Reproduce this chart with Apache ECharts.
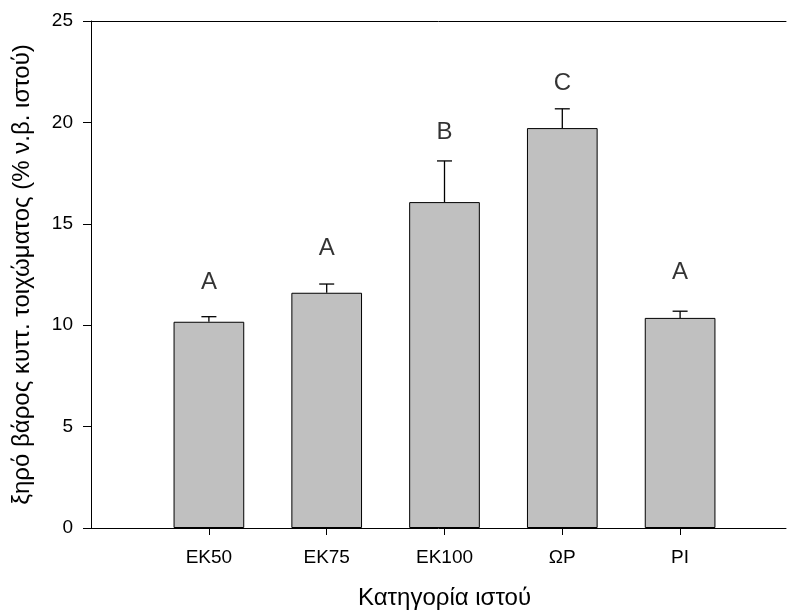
<!DOCTYPE html>
<html><head><meta charset="utf-8">
<script src="https://cdn.jsdelivr.net/npm/echarts@6/dist/echarts.min.js"></script>
<style>html,body{margin:0;padding:0;background:#fff}#c{width:787px;height:612px}</style>
</head><body><div id="c"></div>
<script>
const categories = ['EK50', 'EK75', 'EK100', 'ΩP', 'PI'];
const means = [10.17, 11.60, 16.07, 19.72, 10.36];
const errUpper = [0.25, 0.43, 2.03, 0.95, 0.33];
const letters = ['A', 'A', 'B', 'C', 'A'];
const letterY = [12.1, 13.8, 19.5, 21.9, 12.6];
const yMin = 0, yMax = 25, yStep = 5;
const xTitle = 'Κατηγορία ιστού';
const yTitle = 'ξηρό βάρος κυττ. τοιχώματος (% ν.β. ιστού)';

const FONT = '"Liberation Sans", Arial, sans-serif';
const chart = echarts.init(document.getElementById('c'), null, {renderer: 'canvas'});
const lineStyle = {color: '#000', width: 1};

chart.setOption({
  animation: false,
  backgroundColor: '#fff',
  textStyle: {fontFamily: FONT, color: '#000'},
  grid: [
    {left: 91, right: 1, top: 21, bottom: 84, containLabel: false, outerBoundsMode: 'none'},
    {left: 150, right: 48, top: 21, bottom: 84, containLabel: false, outerBoundsMode: 'none'}
  ],
  xAxis: [
    {gridIndex: 0, type: 'value', position: 'bottom', min: 0, max: 1,
     axisLine: {show: true, lineStyle}, axisTick: {show: false}, axisLabel: {show: false}, splitLine: {show: false}},
    {gridIndex: 0, type: 'value', position: 'top', min: 0, max: 1,
     axisLine: {show: true, lineStyle}, axisTick: {show: false}, axisLabel: {show: false}, splitLine: {show: false}},
    {gridIndex: 1, type: 'category', data: categories, position: 'bottom',
     axisLine: {show: false},
     axisTick: {show: true, alignWithLabel: true, length: 7, lineStyle},
     axisLabel: {fontSize: 19, color: '#000', margin: 20, fontFamily: FONT},
     name: xTitle, nameLocation: 'middle', nameGap: 58,
     nameTextStyle: {fontSize: 24, color: '#000', fontFamily: FONT}}
  ],
  yAxis: [
    {gridIndex: 0, type: 'value', min: yMin, max: yMax, interval: yStep,
     axisLine: {show: true, lineStyle},
     axisTick: {show: true, length: 8, lineStyle},
     axisLabel: {fontSize: 19, color: '#000', margin: 18, fontFamily: FONT},
     splitLine: {show: false},
     name: yTitle, nameLocation: 'middle', nameGap: 57,
     nameTextStyle: {fontSize: 24, color: '#000', fontFamily: FONT}},
    {gridIndex: 1, type: 'value', min: yMin, max: yMax, interval: yStep, show: false}
  ],
  series: [
    {type: 'bar', xAxisIndex: 2, yAxisIndex: 1, data: means, barWidth: '60%',
     itemStyle: {color: '#c0c0c0', borderColor: '#000', borderWidth: 1}, z: 2},
    {type: 'custom', xAxisIndex: 2, yAxisIndex: 1, z: 3,
     data: means.map((m, i) => [i, m, m + errUpper[i]]),
     renderItem: function (params, api) {
       const base = api.coord([api.value(0), api.value(1)]);
       const top = api.coord([api.value(0), api.value(2)]);
       const half = 7.5;
       return {type: 'group', children: [
         {type: 'line', shape: {x1: base[0], y1: base[1], x2: top[0], y2: top[1]}, style: {stroke: '#000', lineWidth: 1.3}},
         {type: 'line', shape: {x1: top[0] - half, y1: top[1], x2: top[0] + half, y2: top[1]}, style: {stroke: '#000', lineWidth: 1.3}}
       ]};
     }},
    {type: 'scatter', xAxisIndex: 2, yAxisIndex: 1, symbolSize: 0, z: 4,
     data: letterY.map((v, i) => ({value: [i, v], label: {formatter: letters[i]}})),
     label: {show: true, position: 'inside', fontSize: 24, color: '#000', fontFamily: FONT}}
  ]
});
</script>
</body></html>
